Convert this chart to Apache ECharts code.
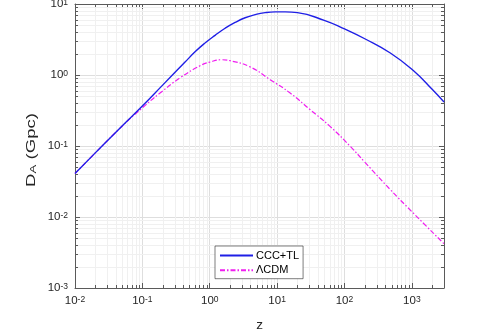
<!DOCTYPE html>
<html><head><meta charset="utf-8">
<script src="https://cdn.jsdelivr.net/npm/echarts@6/dist/echarts.min.js"></script>
<style>html,body{margin:0;padding:0;background:#fff}#c{width:481px;height:333px}</style>
</head><body><div id="c"></div>
<script>
// ---- data ----
const seriesNames = ['CCC+TL', '\u039BCDM'];
const zCCC = [0.01, 0.02, 0.05, 0.1, 0.2, 0.43, 0.605, 0.851, 1.2, 1.69, 2.38, 3.35, 4.71, 6.64, 9.33, 13.2, 20, 50, 100, 200, 479, 1060, 2000, 3000];
const dCCC = [0.041, 0.08, 0.192, 0.366, 0.72, 1.52, 2.12, 2.82, 3.62, 4.55, 5.50, 6.40, 7.08, 7.56, 7.75, 7.75, 7.55, 5.88, 4.45, 3.24, 2.04, 1.15, 0.63, 0.417];
const zLCDM = [0.01, 0.02, 0.05, 0.1, 0.183, 0.362, 0.718, 1, 1.5, 2, 3.97, 7.87, 15.6, 31, 61, 122, 200, 479, 1000, 3000];
const dLCDM = [0.041, 0.08, 0.19, 0.345, 0.557, 0.91, 1.35, 1.52, 1.64, 1.59, 1.30, 0.86, 0.557, 0.324, 0.189, 0.0987, 0.0593, 0.0243, 0.0119, 0.0042];
const xRange = [0.01, 3000];
const yRange = [0.001, 10];
const xDecades = [0.01, 0.1, 1, 10, 100, 1000];
const yDecades = [0.001, 0.01, 0.1, 1];
const minorMultipliers = [2, 3, 4, 5, 6, 7, 8, 9];
const xAxisName = 'z';
const yAxisName = '{m|D}{u|A}{m| (Gpc)}';

// ---- build ----
const xMinor = [];
xDecades.forEach(d => minorMultipliers.forEach(m => { const v = +(d * m).toPrecision(3); if (v < xRange[1]) xMinor.push([v, 1]); }));
const yMinor = [];
yDecades.forEach(d => minorMultipliers.forEach(m => { const v = +(d * m).toPrecision(3); if (v < yRange[1]) yMinor.push([1, v]); }));

const FONT = '"Liberation Sans", Arial, Helvetica, sans-serif';
const TXT = '#262626';
const AX = '#5a5a5a';
const MAJ = '#dedede';
const MIN = '#f0f0f0';

function expLabel(v) {
  const l = Math.log10(v);
  const e = Math.round(l);
  if (Math.abs(l - e) > 1e-6) return '';
  return '{b|10}{s|' + e + '}';
}
const labelRich = {
  b: { fontSize: 11.5, lineHeight: 12, verticalAlign: 'bottom', fontFamily: FONT, color: TXT },
  s: { fontSize: 8.5, lineHeight: 10, verticalAlign: 'top', padding: [0, 0, 6, 0], fontFamily: FONT, color: TXT }
};

function pair(xs, ys) { return xs.map((x, i) => [x, ys[i]]); }

const chart = echarts.init(document.getElementById('c'), null, { renderer: 'canvas' });
const baseX = { type: 'log', logBase: 10, min: xRange[0], max: xRange[1] };
const baseY = { type: 'log', logBase: 10, min: yRange[0], max: yRange[1] };
chart.setOption({
  animation: false,
  backgroundColor: '#ffffff',
  grid: { left: 75, top: 4, width: 369, height: 284, containLabel: false, outerBoundsMode: 'none' },
  graphic: [{
    type: 'text', x: 31.5, y: 150, rotation: Math.PI / 2, scaleX: 1.33, scaleY: 0.9, silent: true,
    style: {
      text: yAxisName, align: 'center', verticalAlign: 'middle', fill: TXT, fontFamily: FONT, fontSize: 14,
      rich: {
        m: { fontSize: 14, lineHeight: 14, verticalAlign: 'top', fontFamily: FONT, fill: TXT },
        u: { fontSize: 10, lineHeight: 10, verticalAlign: 'bottom', padding: [7, 0, 0, 0], fontFamily: FONT, fill: TXT }
      }
    }
  }],
  legend: {
    orient: 'vertical', left: 215, top: 246,
    data: seriesNames,
    itemWidth: 33, itemHeight: 11, itemGap: 3.7,
    itemStyle: { opacity: 0 },
    padding: [4, 4, 3, 4],
    borderColor: '#262626', borderWidth: 0.6, backgroundColor: '#ffffff',
    textStyle: { fontSize: 11, fontFamily: FONT, color: '#000', padding: [0, 0, 0, -2] },
    selectedMode: false
  },
  xAxis: [
    Object.assign({}, baseX, {
      position: 'bottom',
      name: xAxisName, nameLocation: 'middle', nameGap: 30,
      nameTextStyle: { fontSize: 13.5, fontFamily: FONT, color: TXT },
      axisLine: { show: true, lineStyle: { color: AX, width: 1 } },
      axisTick: { show: true, inside: true, length: 5, lineStyle: { color: AX } },
      axisLabel: { formatter: expLabel, rich: labelRich, margin: 7, showMinLabel: true, showMaxLabel: true },
      splitLine: { show: true, lineStyle: { color: MAJ, width: 1 } }
    }),
    Object.assign({}, baseX, {
      position: 'top',
      axisLine: { show: true, lineStyle: { color: AX, width: 1 } },
      axisTick: { show: true, inside: true, length: 5, lineStyle: { color: AX } },
      axisLabel: { show: false },
      splitLine: { show: false }
    })
  ],
  yAxis: [
    Object.assign({}, baseY, {
      position: 'left',
      axisLine: { show: true, lineStyle: { color: AX, width: 1 } },
      axisTick: { show: true, inside: true, length: 5, lineStyle: { color: AX } },
      axisLabel: { formatter: expLabel, rich: labelRich, margin: 7 },
      splitLine: { show: true, lineStyle: { color: MAJ, width: 1 } }
    }),
    Object.assign({}, baseY, {
      position: 'right',
      axisLine: { show: true, lineStyle: { color: AX, width: 1 } },
      axisTick: { show: true, inside: true, length: 5, lineStyle: { color: AX } },
      axisLabel: { show: false },
      splitLine: { show: false }
    })
  ],
  series: [
    {
      type: 'custom', name: 'xminor', z: 1, silent: true,
      coordinateSystem: 'cartesian2d', xAxisIndex: 0, yAxisIndex: 0,
      data: xMinor,
      renderItem: function (params, api) {
        const cs = params.coordSys;
        const p = api.coord([api.value(0), 1]);
        const x = Math.round(p[0]) + 0.5;
        const y0 = cs.y, y1 = cs.y + cs.height;
        return { type: 'group', children: [
          { type: 'line', shape: { x1: x, y1: y0, x2: x, y2: y1 }, style: { stroke: MIN, lineWidth: 1 }, z2: 0 },
          { type: 'line', shape: { x1: x, y1: y1, x2: x, y2: y1 - 3 }, style: { stroke: AX, lineWidth: 1 }, z2: 5 },
          { type: 'line', shape: { x1: x, y1: y0, x2: x, y2: y0 + 3 }, style: { stroke: AX, lineWidth: 1 }, z2: 5 }
        ]};
      }
    },
    {
      type: 'custom', name: 'yminor', z: 1, silent: true,
      coordinateSystem: 'cartesian2d', xAxisIndex: 0, yAxisIndex: 0,
      data: yMinor,
      renderItem: function (params, api) {
        const cs = params.coordSys;
        const p = api.coord([1, api.value(1)]);
        const y = Math.round(p[1]) + 0.5;
        const x0 = cs.x, x1 = cs.x + cs.width;
        return { type: 'group', children: [
          { type: 'line', shape: { x1: x0, y1: y, x2: x1, y2: y }, style: { stroke: MIN, lineWidth: 1 }, z2: 0 },
          { type: 'line', shape: { x1: x0, y1: y, x2: x0 + 3, y2: y }, style: { stroke: AX, lineWidth: 1 }, z2: 5 },
          { type: 'line', shape: { x1: x1, y1: y, x2: x1 - 3, y2: y }, style: { stroke: AX, lineWidth: 1 }, z2: 5 }
        ]};
      }
    },
    {
      type: 'line', name: seriesNames[0], z: 4,
      data: pair(zCCC, dCCC),
      symbol: 'none', showSymbol: false,
      smooth: 0.5,
      lineStyle: { color: '#1f1fe6', width: 1.4, type: 'solid' },
      itemStyle: { color: '#1f1fe6' }
    },
    {
      type: 'line', name: seriesNames[1], z: 3,
      data: pair(zLCDM, dLCDM),
      symbol: 'none', showSymbol: false,
      smooth: 0.5,
      lineStyle: { color: '#f01ef0', width: 1.2, type: [5, 2, 1.5, 2] },
      itemStyle: { color: '#f01ef0' }
    }
  ]
});
</script>
</body></html>
